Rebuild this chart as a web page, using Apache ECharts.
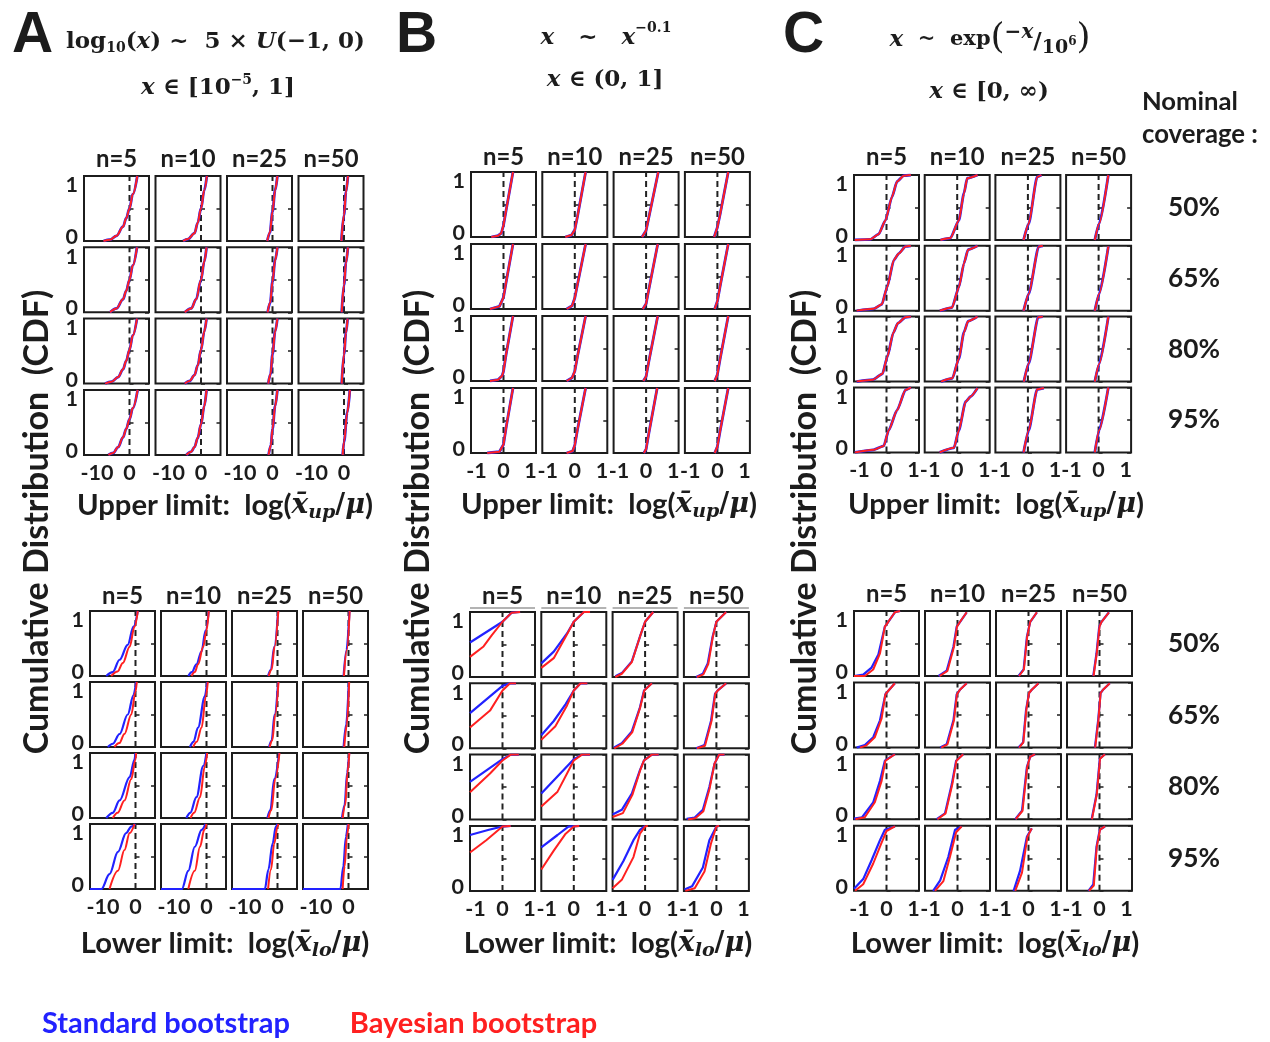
<!DOCTYPE html>
<html><head><meta charset="utf-8">
<script src="https://cdn.jsdelivr.net/npm/echarts@6/dist/echarts.min.js"></script>
<style>html,body{margin:0;padding:0;background:#fff}#chart{width:1270px;height:1042px}</style>
</head><body><div id="chart"></div>
<script>
// ---------- categories / labels ----------
const nLabels = ['n=5', 'n=10', 'n=25', 'n=50'];
const coverageLabels = ['50%', '65%', '80%', '95%'];
const xTicksA = [-10, 0];
const xTicksBC = [-1, 0, 1];
const seriesNames = ['Standard bootstrap', 'Bayesian bootstrap'];

// ---------- data: [row (coverage)][col (n)] -> [[x, cdf], ...] ----------
// Column A, upper limit (standard and Bayesian curves coincide)
const A_up = [
 [[[-8,0],[-6,0.02],[-4,0.08],[-2,0.22],[-1,0.35],[0,0.5],[1,0.72],[2.4,1]],
  [[-5.5,0],[-4,0.03],[-2,0.12],[-1,0.28],[0,0.5],[1,0.78],[1.8,1]],
  [[-1.6,0],[-0.8,0.13],[0,0.45],[0.8,0.78],[1.5,1]],
  [[-0.8,0],[0,0.4],[0.6,0.75],[1.2,1]]],
 [[[-6,0],[-4,0.06],[-2,0.2],[-1,0.33],[0,0.5],[1,0.72],[2.3,1]],
  [[-5,0],[-3,0.06],[-1.5,0.2],[0,0.5],[1,0.78],[1.7,1]],
  [[-1.5,0],[-0.7,0.15],[0,0.47],[0.8,0.8],[1.5,1]],
  [[-0.7,0],[0,0.42],[0.6,0.76],[1.2,1]]],
 [[[-7.5,0],[-5.5,0.03],[-3.5,0.1],[-2,0.22],[-1,0.35],[0,0.52],[1,0.74],[2.3,1]],
  [[-5,0],[-3.5,0.04],[-2,0.13],[-1,0.28],[0,0.52],[1,0.8],[1.7,1]],
  [[-1.3,0],[-0.6,0.15],[0,0.45],[0.8,0.8],[1.5,1]],
  [[-0.7,0],[0,0.45],[0.6,0.78],[1.1,1]]],
 [[[-6.5,0],[-5,0.03],[-3.5,0.12],[-2,0.27],[-1,0.4],[0,0.55],[1,0.72],[2.5,1]],
  [[-4.5,0],[-3,0.05],[-2,0.12],[-1,0.26],[0,0.47],[1,0.75],[1.7,1]],
  [[-1.2,0],[-0.5,0.15],[0,0.4],[0.8,0.75],[1.5,1]],
  [[-0.4,0],[0,0.2],[1,0.65],[1.8,1]]]
];
// Column A, lower limit
const A_lo_blue = [
 [[[-9,0],[-7,0.06],[-4.9,0.25],[-2.4,0.48],[-0.6,0.76],[0.7,1]],
  [[-5.6,0],[-4.5,0.06],[-3.1,0.18],[-1.5,0.38],[-0.3,0.7],[0.7,1]],
  [[-2.9,0],[-2,0.1],[-1,0.45],[0.2,1]],
  [[-1.5,0],[-0.6,0.4],[0.3,1]]],
 [[[-8.5,0],[-7,0.05],[-4.9,0.2],[-2.4,0.5],[-0.6,0.8],[0.2,1]],
  [[-5.1,0],[-4,0.08],[-2.6,0.3],[-0.5,0.78],[0.2,1]],
  [[-2.6,0],[-1.8,0.1],[-0.9,0.5],[0.2,1]],
  [[-1.5,0],[-0.7,0.35],[0.1,1]]],
 [[[-9,0],[-7,0.08],[-4.9,0.27],[-1.8,0.63],[-0.3,0.9],[0,1]],
  [[-6.2,0],[-5,0.08],[-3.1,0.32],[-1,0.8],[0,1]],
  [[-3.1,0],[-2.2,0.12],[-1,0.6],[0.5,1]],
  [[-2,0],[-1.2,0.2],[-0.4,0.7],[0.2,1]]],
 [[[-14,0],[-10.5,0],[-8,0.23],[-5.4,0.57],[-2.9,0.86],[-1.3,0.96],[0,1]],
  [[-14,0],[-7.6,0],[-5.6,0.28],[-3.6,0.65],[-1.5,0.91],[-0.3,1]],
  [[-14,0],[-3.9,0],[-2.8,0.3],[-1.5,0.7],[-0.5,0.96],[0,1]],
  [[-14,0],[-2.5,0],[-1.6,0.35],[-0.8,0.8],[-0.2,1]]]
];
const A_lo_red = [
 [[[-7.5,0],[-5.5,0.07],[-3.9,0.2],[-1.8,0.45],[-0.3,0.76],[0.7,1]],
  [[-4.6,0],[-3.6,0.06],[-2.6,0.18],[-1,0.45],[0,0.7],[0.7,1]],
  [[-2.7,0],[-1.8,0.1],[-0.9,0.45],[0.25,1]],
  [[-1.4,0],[-0.5,0.4],[0.35,1]]],
 [[[-6.5,0],[-5,0.06],[-3.4,0.2],[-1.3,0.5],[0,0.85],[0.4,1]],
  [[-4.1,0],[-3,0.08],[-1.5,0.3],[-0.2,0.78],[0.4,1]],
  [[-2.4,0],[-1.6,0.1],[-0.7,0.5],[0.3,1]],
  [[-1.3,0],[-0.5,0.35],[0.2,1]]],
 [[[-7,0],[-5.5,0.08],[-3.4,0.27],[-1.3,0.6],[0,0.9],[0.2,1]],
  [[-4.9,0],[-3.8,0.08],[-2,0.32],[-0.5,0.8],[0.2,1]],
  [[-2.8,0],[-1.9,0.12],[-0.7,0.6],[0.6,1]],
  [[-1.8,0],[-1,0.2],[-0.3,0.7],[0.25,1]]],
 [[[-8,0],[-5.4,0.28],[-3.4,0.6],[-1.8,0.86],[-0.3,1]],
  [[-5.6,0],[-3.6,0.28],[-2,0.65],[-0.7,0.91],[0,1]],
  [[-2.9,0],[-2,0.3],[-1,0.7],[0,0.96],[0.3,1]],
  [[-1.8,0],[-1.2,0.35],[-0.5,0.8],[0,1]]]
];
// Column B, upper limit (curves coincide)
const B_up = [
 [[[-0.45,0],[-0.2,0.02],[-0.08,0.06],[0,0.18],[0.1,0.42],[0.35,1]],
  [[-0.35,0],[-0.12,0.03],[0,0.11],[0.1,0.32],[0.4,1]],
  [[-0.15,0],[0,0.1],[0.1,0.3],[0.45,1]],
  [[-0.12,0],[0,0.15],[0.1,0.35],[0.4,1]]],
 [[[-0.5,0],[-0.15,0.04],[0,0.18],[0.1,0.42],[0.35,1]],
  [[-0.3,0],[-0.1,0.05],[0,0.17],[0.1,0.38],[0.4,1]],
  [[-0.12,0],[0,0.08],[0.1,0.3],[0.43,1]],
  [[-0.1,0],[0,0.12],[0.1,0.35],[0.4,1]]],
 [[[-0.5,0],[-0.2,0.02],[-0.05,0.08],[0,0.15],[0.1,0.42],[0.35,1]],
  [[-0.3,0],[-0.1,0.05],[0,0.15],[0.1,0.38],[0.4,1]],
  [[-0.1,0],[0,0.07],[0.1,0.3],[0.43,1]],
  [[-0.1,0],[0,0.1],[0.1,0.34],[0.4,1]]],
 [[[-0.6,0],[-0.15,0.02],[0,0.13],[0.1,0.4],[0.35,1]],
  [[-0.3,0],[-0.08,0.03],[0,0.12],[0.1,0.36],[0.4,1]],
  [[-0.08,0],[0,0.06],[0.1,0.3],[0.41,1]],
  [[-0.1,0],[0,0.1],[0.1,0.34],[0.4,1]]]
];
// Column B, lower limit
const B_lo_blue = [
 [[[-1.2,0.53],[0,0.85],[0.34,0.99],[0.65,1]],
  [[-1.2,0.21],[-0.74,0.39],[-0.25,0.67],[0,0.85],[0.37,1],[0.6,1]],
  [[-1.1,0.01],[-0.86,0.06],[-0.49,0.24],[-0.19,0.62],[0,0.85],[0.3,1]],
  [[-0.75,0],[-0.5,0.05],[-0.32,0.21],[-0.14,0.62],[0,0.85],[0.36,1]]],
 [[[-1.2,0.54],[0,0.96],[0.28,1],[0.5,1]],
  [[-1.2,0.2],[-0.74,0.42],[-0.3,0.68],[0,0.89],[0.25,1],[0.5,1]],
  [[-1.16,0.01],[-0.86,0.08],[-0.49,0.26],[-0.19,0.63],[-0.04,0.89],[0.25,1]],
  [[-0.75,0],[-0.44,0.05],[-0.2,0.42],[-0.05,0.84],[0.05,0.89],[0.36,1]]],
 [[[-1.2,0.58],[0,0.93],[0.3,1],[0.6,1]],
  [[-1.2,0.4],[-0.5,0.71],[0,0.93],[0.3,1],[0.6,1]],
  [[-1.2,0.08],[-0.86,0.15],[-0.49,0.4],[-0.19,0.76],[-0.04,0.91],[0.25,1],[0.5,1]],
  [[-1.1,0.01],[-0.8,0.03],[-0.5,0.15],[-0.26,0.5],[-0.07,0.86],[0.1,1],[0.3,1]]],
 [[[-1.2,0.86],[-0.5,0.94],[0,0.99],[0.3,1]],
  [[-1.2,0.67],[-0.6,0.86],[-0.2,0.99],[0.2,1]],
  [[-1.2,0.17],[-0.8,0.46],[-0.43,0.78],[-0.19,0.94],[0,1]],
  [[-1.18,0.02],[-0.9,0.07],[-0.5,0.36],[-0.26,0.78],[0,0.99],[0.1,1]]]
];
const B_lo_red = [
 [[[-1.2,0.31],[-0.7,0.47],[-0.4,0.64],[0,0.85],[0.34,0.99],[0.65,1]],
  [[-1.2,0.14],[-0.74,0.29],[-0.3,0.62],[0,0.85],[0.37,1],[0.6,1]],
  [[-1.1,0],[-0.86,0.05],[-0.49,0.23],[-0.19,0.62],[0,0.85],[0.3,1]],
  [[-0.72,0],[-0.48,0.04],[-0.3,0.2],[-0.13,0.62],[0,0.85],[0.36,1]]],
 [[[-1.2,0.32],[-0.46,0.58],[0,0.89],[0.28,1],[0.5,1]],
  [[-1.2,0.13],[-0.68,0.34],[-0.25,0.66],[0,0.89],[0.25,1],[0.5,1]],
  [[-1.14,0],[-0.84,0.07],[-0.47,0.25],[-0.18,0.63],[-0.03,0.89],[0.25,1]],
  [[-0.72,0],[-0.42,0.04],[-0.18,0.42],[-0.04,0.84],[0.05,0.89],[0.36,1]]],
 [[[-1.2,0.42],[-0.46,0.71],[0,0.91],[0.3,1],[0.6,1]],
  [[-1.2,0.2],[-0.6,0.43],[-0.25,0.71],[0,0.91],[0.3,1],[0.6,1]],
  [[-1.2,0.04],[-0.82,0.1],[-0.47,0.38],[-0.18,0.76],[-0.04,0.91],[0.25,1],[0.5,1]],
  [[-1.05,0],[-0.78,0.02],[-0.48,0.13],[-0.25,0.48],[-0.07,0.86],[0.1,1],[0.3,1]]],
 [[[-1.2,0.59],[-0.6,0.78],[0,0.99],[0.3,1]],
  [[-1.2,0.33],[-0.74,0.62],[-0.3,0.88],[0,0.99],[0.2,1]],
  [[-1.2,0.04],[-0.86,0.17],[-0.43,0.52],[-0.19,0.88],[0,0.99],[0.1,1]],
  [[-1.15,0],[-0.8,0.04],[-0.44,0.3],[-0.2,0.73],[0,0.99],[0.1,1]]]
];
// Column C, upper limit (curves coincide)
const C_up = [
 [[[-1.17,0],[-0.6,0.01],[-0.29,0.09],[-0.04,0.3],[0.2,0.66],[0.39,0.9],[0.64,0.99],[0.9,1]],
  [[-0.62,0],[-0.25,0.03],[0.06,0.3],[0.25,0.72],[0.37,0.95],[0.75,1]],
  [[-0.16,0],[0.03,0.25],[0.34,0.97],[0.5,1]],
  [[-0.14,0],[0.02,0.25],[0.36,1]]],
 [[[-1.1,0],[-0.48,0.03],[-0.17,0.1],[0.02,0.36],[0.27,0.78],[0.45,0.88],[0.7,0.99],[0.9,1]],
  [[-0.64,0],[-0.19,0.05],[0.06,0.36],[0.25,0.73],[0.4,0.94],[0.75,1]],
  [[-0.16,0],[0.03,0.26],[0.4,0.99],[0.55,1]],
  [[-0.14,0],[0.02,0.26],[0.36,0.99]]],
 [[[-1.1,0],[-0.5,0.03],[-0.15,0.12],[0.03,0.38],[0.25,0.75],[0.42,0.9],[0.7,0.99],[0.9,1]],
  [[-0.6,0],[-0.18,0.05],[0.06,0.35],[0.25,0.76],[0.4,0.93],[0.75,1]],
  [[-0.15,0],[0.03,0.28],[0.38,0.99],[0.55,1]],
  [[-0.14,0],[0.02,0.27],[0.36,1]]],
 [[[-1.17,0],[-0.48,0.04],[-0.1,0.1],[0.08,0.34],[0.39,0.65],[0.7,0.96],[0.9,1]],
  [[-0.65,0],[-0.12,0.07],[0.06,0.34],[0.31,0.78],[0.5,0.86],[0.75,0.99]],
  [[-0.16,0],[0.03,0.34],[0.34,0.97],[0.59,0.99]],
  [[-0.14,0],[0.02,0.34],[0.36,1]]]
];
// Column C, lower limit
const C_lo_blue = [
 [[[-1.2,0],[-0.86,0.02],[-0.55,0.13],[-0.3,0.33],[-0.06,0.76],[0.06,0.83],[0.31,0.98],[0.5,1]],
  [[-0.7,0],[-0.4,0.08],[-0.15,0.45],[-0.03,0.76],[0.09,0.83],[0.34,0.98]],
  [[-0.37,0],[-0.18,0.1],[-0.06,0.6],[0.06,0.83],[0.31,0.98]],
  [[-0.23,0],[-0.11,0.35],[-0.01,0.76],[0.07,0.83],[0.35,0.98]]],
 [[[-1.1,0],[-0.8,0.04],[-0.49,0.16],[-0.24,0.42],[-0.04,0.82],[0.1,0.89],[0.31,0.99]],
  [[-0.64,0],[-0.4,0.05],[-0.15,0.42],[-0.03,0.82],[0.09,0.89],[0.34,0.99]],
  [[-0.37,0],[-0.2,0.08],[-0.09,0.58],[0.02,0.84],[0.12,0.89],[0.37,0.99]],
  [[-0.17,0],[-0.05,0.42],[0.04,0.84],[0.13,0.89],[0.38,0.99]]],
 [[[-1.2,0.01],[-0.9,0.03],[-0.49,0.26],[-0.24,0.59],[-0.06,0.9],[0.31,1]],
  [[-0.77,0],[-0.46,0.09],[-0.21,0.54],[-0.05,0.9],[0.21,1]],
  [[-0.49,0],[-0.24,0.13],[-0.06,0.8],[0.06,0.96],[0.24,1]],
  [[-0.29,0],[-0.11,0.38],[0.01,0.93],[0.2,1]]],
 [[[-1.2,0.03],[-0.86,0.18],[-0.55,0.47],[-0.24,0.78],[-0.06,0.94],[0.31,0.99]],
  [[-0.9,0],[-0.64,0.16],[-0.34,0.52],[-0.09,0.94],[0.15,0.99]],
  [[-0.55,0],[-0.31,0.31],[-0.06,0.83],[0.12,0.96]],
  [[-0.41,0],[-0.23,0.1],[-0.11,0.68],[0.01,0.94],[0.2,0.99]]]
];
const C_lo_red = [
 [[[-1.2,0],[-0.8,0],[-0.49,0.1],[-0.24,0.35],[-0.06,0.76],[0.06,0.83],[0.31,0.98],[0.5,1]],
  [[-0.66,0],[-0.37,0.08],[-0.13,0.45],[-0.02,0.76],[0.09,0.83],[0.34,0.98]],
  [[-0.35,0],[-0.17,0.1],[-0.05,0.6],[0.06,0.83],[0.31,0.98]],
  [[-0.22,0],[-0.1,0.35],[0,0.76],[0.07,0.83],[0.35,0.98]]],
 [[[-0.98,0],[-0.75,0.03],[-0.43,0.16],[-0.18,0.45],[-0.04,0.82],[0.1,0.89],[0.31,0.99]],
  [[-0.6,0],[-0.37,0.05],[-0.13,0.42],[-0.02,0.82],[0.09,0.89],[0.34,0.99]],
  [[-0.35,0],[-0.19,0.08],[-0.08,0.58],[0.02,0.84],[0.12,0.89],[0.37,0.99]],
  [[-0.16,0],[-0.04,0.42],[0.04,0.84],[0.13,0.89],[0.38,0.99]]],
 [[[-1.15,0],[-0.8,0.03],[-0.43,0.26],[-0.18,0.59],[-0.04,0.9],[0.31,1]],
  [[-0.74,0],[-0.44,0.09],[-0.19,0.54],[-0.04,0.9],[0.21,1]],
  [[-0.47,0],[-0.22,0.13],[-0.05,0.8],[0.06,0.96],[0.24,1]],
  [[-0.28,0],[-0.1,0.38],[0.02,0.93],[0.2,1]]],
 [[[-1.16,0],[-0.86,0.1],[-0.49,0.42],[-0.18,0.74],[0,0.92],[0.31,0.99]],
  [[-0.83,0],[-0.52,0.15],[-0.28,0.52],[-0.05,0.9],[0.15,0.99]],
  [[-0.49,0],[-0.24,0.28],[-0.04,0.83],[0.12,0.96]],
  [[-0.39,0],[-0.21,0.08],[-0.1,0.68],[0.02,0.94],[0.2,0.99]]]
];

// ---------- styling / layout ----------
const INK = '#1c1c1c', BLUE = '#2222ff', RED = '#ff2020';
const SANS = 'Lato', MATH = '"DejaVu Serif"';
const PW = 65, PH = 65;
const blocks = [
  {blue: A_up, red: A_up, x0: 84, y0: 176, dx: 71.5, dy: 71.3, xr: [-14, 6], iv: 2, ticks: xTicksA, smooth: 0.35, nDy: -17, upper: true},
  {blue: A_lo_blue, red: A_lo_red, x0: 90, y0: 611, dx: 71, dy: 71, xr: [-14, 6], iv: 2, ticks: xTicksA, smooth: 0.35, nDy: -15, upper: false},
  {blue: B_up, red: B_up, x0: 471, y0: 172, dx: 71.3, dy: 72, xr: [-1.2, 1.2], iv: 0.2, ticks: xTicksBC, smooth: false, nDy: -15, upper: true},
  {blue: B_lo_blue, red: B_lo_red, x0: 470, y0: 612, dx: 71.3, dy: 71.3, xr: [-1.2, 1.2], iv: 0.2, ticks: xTicksBC, smooth: false, nDy: -16, upper: false, rule: true},
  {blue: C_up, red: C_up, x0: 854, y0: 175, dx: 70.7, dy: 70.8, xr: [-1.2, 1.2], iv: 0.2, ticks: xTicksBC, smooth: 0.2, nDy: -18, upper: true},
  {blue: C_lo_blue, red: C_lo_red, x0: 854, y0: 611, dx: 71, dy: 71.6, xr: [-1.2, 1.2], iv: 0.2, ticks: xTicksBC, smooth: false, nDy: -17, upper: false}
];

const cv = document.createElement('canvas').getContext('2d');
function measure(t, font) { cv.font = font; return cv.measureText(t).width; }
function fit(t, weightFamily, target) { return 40 * target / measure(t, 'bold 40px ' + weightFamily); }

const tickSize = fit('-10', SANS, 33);
const nSize = fit('n=10', SANS, 55);
const tickFont = {fontFamily: SANS, fontWeight: 'bold', fontSize: tickSize, color: INK};

const grids = [], xAxes = [], yAxes = [], series = [], graphics = [];
function txt(x, y, t, font, color, align, extra) {
  graphics.push(Object.assign({type: 'text', x: x, y: y, silent: true, z: 10,
    style: {text: t, font: font, fill: color || INK, align: align || 'left', verticalAlign: 'middle',
            textAlign: align || 'left', textVerticalAlign: 'middle'}}, extra || {}));
}
function chain(x, y, pieces, anchor) {
  const ws = pieces.map(p => measure(p.t, p.f));
  const total = ws.reduce((a, b) => a + b, 0);
  let cx = anchor === 'center' ? x - total / 2 : x;
  pieces.forEach((p, i) => { txt(cx, y + (p.dy || 0), p.t, p.f, p.c); cx += ws[i]; });
}
const fmtTick = v => (v < 0 ? '-' + Math.abs(v) : String(v));

blocks.forEach((b, bi) => {
  for (let r = 0; r < 4; r++) {
    for (let c = 0; c < 4; c++) {
      const gi = grids.length;
      const left = b.x0 + c * b.dx, top = b.y0 + r * b.dy;
      grids.push({left: left, top: top, width: PW, height: PH, show: true, borderWidth: 2,
        borderColor: INK, containLabel: false, outerBoundsMode: 'none'});
      const ticks = b.ticks;
      xAxes.push({type: 'value', gridIndex: gi, min: b.xr[0], max: b.xr[1], interval: b.iv,
        axisLine: {show: false}, axisTick: {show: false}, splitLine: {show: false},
        axisLabel: Object.assign({show: r === 3, margin: 7,
          formatter: v => { const t = ticks.find(t => Math.abs(t - v) < 1e-6); return t === undefined ? '' : fmtTick(t); }}, tickFont)});
      const yBase = {type: 'value', gridIndex: gi, min: 0, max: 1, interval: 0.5,
        axisLine: {show: false}, splitLine: {show: false},
        axisTick: {show: true, inside: true, length: 4, lineStyle: {color: INK, width: 1.5}}};
      yAxes.push(Object.assign({}, yBase, {position: 'left',
        axisLabel: Object.assign({show: c === 0, margin: 6,
          formatter: v => (v === 0 ? '{b|0}' : v === 1 ? '{t|1}' : ''),
          rich: {t: Object.assign({padding: [19, 0, 0, 0]}, tickFont), b: Object.assign({padding: [0, 0, 8, 0]}, tickFont)}}, tickFont)}));
      yAxes.push(Object.assign({}, yBase, {position: 'right', axisLabel: {show: false}}));
      const common = {type: 'line', xAxisIndex: gi, yAxisIndex: gi * 2, symbol: 'none', silent: true,
        animation: false, emphasis: {disabled: true}};
      series.push(Object.assign({}, common, {name: 'zero', data: [[0, 0], [0, 1]],
        lineStyle: {color: '#222', width: 2, type: [6, 4]}, z: 2}));
      series.push(Object.assign({}, common, {name: seriesNames[0], data: b.blue[r][c],
        smooth: b.smooth, smoothMonotone: 'x', lineStyle: {color: BLUE, width: b.upper ? 2.8 : 2.2},
        itemStyle: {color: BLUE}, z: 3}));
      series.push(Object.assign({}, common, {name: seriesNames[1], data: b.red[r][c],
        smooth: b.smooth, smoothMonotone: 'x', lineStyle: {color: RED, width: 2},
        itemStyle: {color: RED}, z: 4}));
      if (r === 0) {
        txt(left + PW / 2, top + b.nDy, nLabels[c], 'bold ' + nSize + 'px ' + SANS, INK, 'center');
        if (b.rule) graphics.push({type: 'line', silent: true, shape: {x1: left, y1: top - 4, x2: left + PW, y2: top - 4},
          style: {stroke: '#9a9a9a', lineWidth: 1.5}});
      }
      if (bi >= 4 && c === 0) {
        txt(1194, top + PH / 2, coverageLabels[r], 'bold ' + fit('50%', SANS, 52) + 'px ' + SANS, INK, 'center');
      }
    }
  }
});

// ---------- titles and labels ----------
const M = s => 'bold ' + s + 'px ' + MATH;
const MI = s => 'italic bold ' + s + 'px ' + MATH;
const S = s => 'bold ' + s + 'px ' + SANS;
const BIG = s => 'bold ' + s + 'px "Liberation Sans"';

txt(12, 36, 'A', BIG(57));
txt(396, 36, 'B', BIG(57));
txt(783, 36, 'C', BIG(57));

chain(66, 42, [
  {t: 'log', f: M(23)}, {t: '10', f: M(14), dy: 6}, {t: '(', f: M(23)}, {t: 'x', f: MI(23)}, {t: ')', f: M(23)},
  {t: ' ~  5 × ', f: M(23)}, {t: 'U', f: MI(23)}, {t: '(−1, 0)', f: M(23)}], 'left');
chain(218, 88, [
  {t: 'x', f: MI(23)}, {t: ' ∈ [10', f: M(23)}, {t: '−5', f: M(14), dy: -8}, {t: ', 1]', f: M(23)}], 'center');

chain(606, 38, [
  {t: 'x', f: MI(23)}, {t: '   ~   ', f: M(23)}, {t: 'x', f: MI(23)}, {t: '−0.1', f: M(14), dy: -10}], 'center');
chain(605, 80, [
  {t: 'x', f: MI(23)}, {t: ' ∈ (0, 1]', f: M(23)}], 'center');

chain(990, 40, [
  {t: 'x', f: MI(23)}, {t: '  ~  exp', f: M(21)}, {t: '(', f: '36px ' + MATH, dy: -1},
  {t: '−x', f: MI(20), dy: -7}, {t: '/', f: M(23), dy: 2}, {t: '10', f: M(19), dy: 8}, {t: '6', f: M(12), dy: 2},
  {t: ')', f: '36px ' + MATH, dy: -1}], 'center');
chain(989, 92, [
  {t: 'x', f: MI(23)}, {t: ' ∈ [0, ∞)', f: M(23)}], 'center');

// vertical axis titles
const ytTitle = 'Cumulative Distribution  (CDF)';
const ytSize = fit(ytTitle, SANS, 465);
[37, 418, 805].forEach(x => txt(x, 522, ytTitle, S(ytSize), INK, 'center', {rotation: Math.PI / 2}));

// horizontal axis titles
const xlSize = fit('Upper limit:', SANS, 153);
function xTitle(cx, cy, word, sub) {
  chain(cx, cy, [
    {t: word + '  log(', f: S(xlSize)}, {t: 'x\u0304', f: MI(28)}, {t: sub, f: MI(19), dy: 7},
    {t: '/', f: M(27)}, {t: 'μ', f: MI(27)}, {t: ')', f: S(xlSize)}], 'center');
}
xTitle(225, 506, 'Upper limit:', 'up');
xTitle(609, 505, 'Upper limit:', 'up');
xTitle(996, 505, 'Upper limit:', 'up');
xTitle(225, 944, 'Lower limit:', 'lo');
xTitle(608, 944, 'Lower limit:', 'lo');
xTitle(995, 944, 'Lower limit:', 'lo');

// nominal coverage header
txt(1142, 102, 'Nominal', S(fit('Nominal', SANS, 96)));
txt(1142, 135, 'coverage :', S(fit('coverage :', SANS, 116)));

const legSize = fit('Standard bootstrap', SANS, 248);

const chart = echarts.init(document.getElementById('chart'), null, {renderer: 'canvas'});
chart.setOption({
  backgroundColor: '#ffffff',
  animation: false,
  tooltip: {show: false},
  legend: {
    left: 32, top: 1022 - legSize * 0.6, icon: 'none', itemWidth: 0, itemGap: 55, selectedMode: false,
    textStyle: {fontFamily: SANS, fontWeight: 'bold', fontSize: legSize},
    data: [{name: seriesNames[0], textStyle: {color: BLUE}}, {name: seriesNames[1], textStyle: {color: RED}}]
  },
  grid: grids, xAxis: xAxes, yAxis: yAxes, series: series,
  graphic: {elements: graphics}
});
</script></body></html>
